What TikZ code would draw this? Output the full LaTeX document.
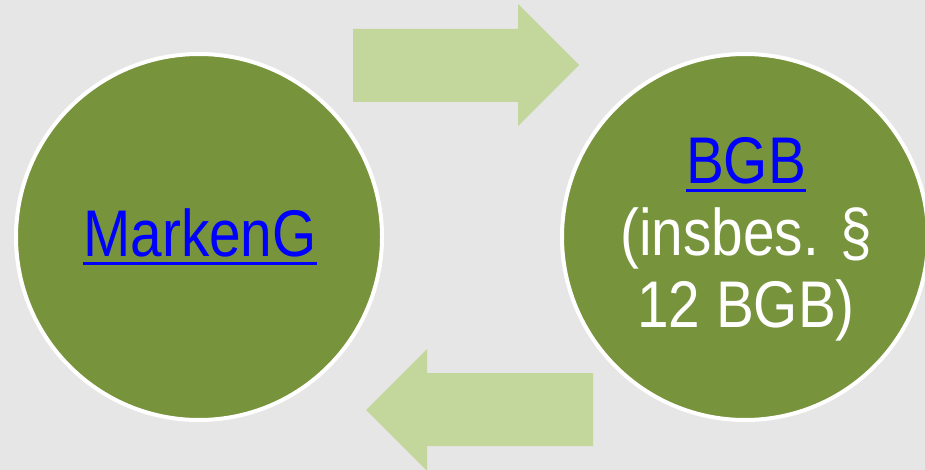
\documentclass[tikz,border=0pt]{standalone}
\usepackage{fontspec}
\setmainfont[FakeStretch=0.86]{Liberation Sans}
\definecolor{bgc}{HTML}{E7E6E6}
\definecolor{circ}{HTML}{77933C}
\definecolor{arr}{HTML}{C3D69B}
\definecolor{lnk}{HTML}{0000FF}
\newcommand\linkul[1]{{\color{lnk}\leavevmode\vtop{\hbox{#1}\kern 5pt\hrule height 3pt}}}
\tikzset{
  bubble/.style={circle, fill=circ, draw=white, line width=4pt, minimum size=366pt, inner sep=0pt},
  bubtext/.style={text=white, align=center, font=\fontsize{66}{72}\selectfont},
  flow/.style={fill=arr, draw=none}
}
\begin{document}
\begin{tikzpicture}[x=1pt,y=-1pt]
\fill[bgc] (0,0) rectangle (925,470);
\useasboundingbox (0,0) rectangle (925,470);
\node[bubble] (left) at (199,237) {};
\node[bubble] (right) at (745,237) {};
\node[bubtext] (ltext) at (200,237) {\linkul{MarkenG}};
\node[bubtext] (rtext) at (746,239) {\linkul{BGB}\\(insbes. §\\12 BGB)};
\fill[flow] (353,29) -- (518,29) -- (518,4) -- (579,65) -- (518,126) -- (518,102) -- (353,102) -- cycle;
\fill[flow] (593,373) -- (427,373) -- (427,349) -- (366,410) -- (427,471) -- (427,446) -- (593,446) -- cycle;
\end{tikzpicture}
\end{document}
